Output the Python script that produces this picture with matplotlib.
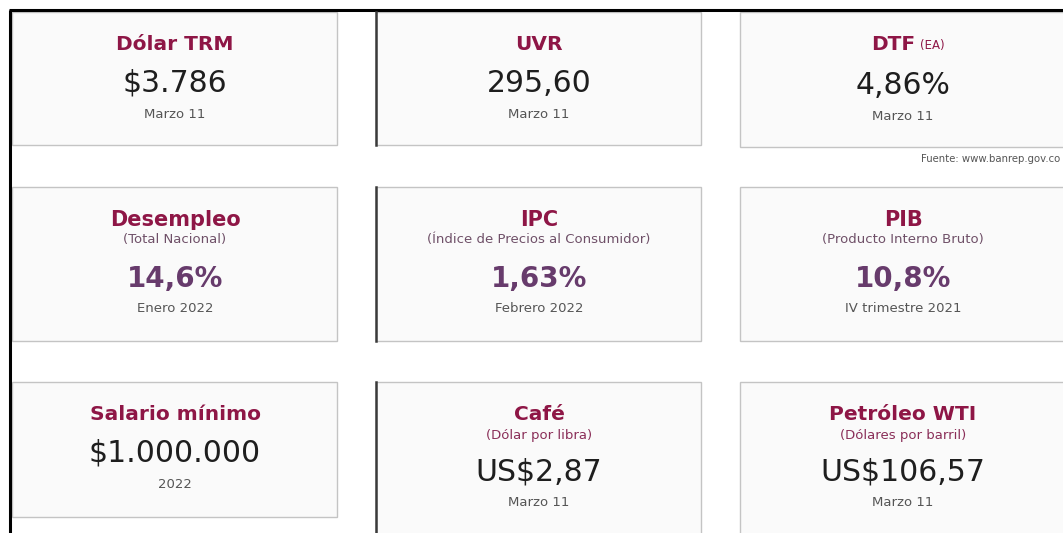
import matplotlib
matplotlib.use("Agg")
import matplotlib.pyplot as plt
from matplotlib.patches import Rectangle

# ---- data ----
titles = ["Dólar TRM", "UVR", "DTF", "Desempleo", "IPC", "PIB",
          "Salario mínimo", "Café", "Petróleo WTI"]
title_suffix = ["", "", "(EA)", "", "", "", "", "", ""]
subtitles = ["", "", "", "(Total Nacional)", "(Índice de Precios al Consumidor)",
             "(Producto Interno Bruto)", "", "(Dólar por libra)", "(Dólares por barril)"]
values = ["$3.786", "295,60", "4,86%", "14,6%", "1,63%", "10,8%",
          "$1.000.000", "US$2,87", "US$106,57"]
dates = ["Marzo 11", "Marzo 11", "Marzo 11", "Enero 2022", "Febrero 2022",
         "IV trimestre 2021", "2022", "Marzo 11", "Marzo 11"]
source = "Fuente: www.banrep.gov.co"

# ---- layout / style ----
W, H = 1063, 533
fig = plt.figure(figsize=(W / 100, H / 100), dpi=100)
ax = fig.add_axes([0, 0, 1, 1])
ax.set_xlim(0, W)
ax.set_ylim(H, 0)
ax.axis("off")

FAM = "DejaVu Sans"
TITLE_C = "#8e1646"
VAL_C = "#1e1e1e"
VAL2_C = "#673b6c"
DATE_C = "#555555"
SUB2_C = "#6f5068"
SUB3_C = "#8a2e58"

col_x = [12, 376, 740]
col_w = [325, 325, 330]
row_y = [12, 187, 382]
row_h = [[133, 133, 135], [154, 154, 154], [135, 160, 160]]

# outer frame lines
ax.plot([10, 10], [10, H], color="black", lw=2.2, solid_capstyle="butt")
ax.plot([9, W], [10, 10], color="black", lw=2.2, solid_capstyle="butt")

for i in range(9):
    r, c = divmod(i, 3)
    x0, y0 = col_x[c], row_y[r]
    w, h = col_w[c], row_h[r][c]
    ax.add_patch(Rectangle((x0, y0), w, h, facecolor="#fafafa",
                           edgecolor="#c4c4c4", lw=1.0))
    if c == 1:
        ax.plot([x0, x0], [y0, y0 + h], color="#3a3a3a", lw=1.8)
    cx = x0 + 163

    if r == 1:
        ax.text(cx, y0 + 33, titles[i], ha="center", va="center", fontsize=15,
                color=TITLE_C, family=FAM, weight="bold")
        ax.text(cx, y0 + 53, subtitles[i], ha="center", va="center", fontsize=9.5,
                color=SUB2_C, family=FAM)
        ax.text(cx, y0 + 92, values[i], ha="center", va="center", fontsize=20,
                color=VAL2_C, family=FAM, weight="bold")
        ax.text(cx, y0 + 122, dates[i], ha="center", va="center", fontsize=9.5,
                color=DATE_C, family=FAM)
    else:
        if title_suffix[i]:
            ax.text(cx + 12, y0 + 33, titles[i], ha="right", va="center",
                    fontsize=14.5, color=TITLE_C, family=FAM, weight="bold")
            ax.text(cx + 17, y0 + 34, title_suffix[i], ha="left", va="center",
                    fontsize=8.5, color=TITLE_C, family=FAM)
        else:
            ax.text(cx, y0 + 32, titles[i], ha="center", va="center", fontsize=14.5,
                    color=TITLE_C, family=FAM, weight="bold")
        off = 0
        if subtitles[i]:
            ax.text(cx, y0 + 53, subtitles[i], ha="center", va="center",
                    fontsize=9.5, color=SUB3_C, family=FAM)
            off = 19
        vy = y0 + 71 + off + (2 if title_suffix[i] else 0)
        ax.text(cx, vy, values[i], ha="center", va="center", fontsize=21.5,
                color=VAL_C, family=FAM)
        ax.text(cx, vy + 31, dates[i], ha="center", va="center", fontsize=9.5,
                color=DATE_C, family=FAM)

ax.text(1060, 159, source, ha="right", va="center", fontsize=7.3,
        color="#555555", family=FAM)

fig.savefig("out.png", dpi=100, facecolor="white")
